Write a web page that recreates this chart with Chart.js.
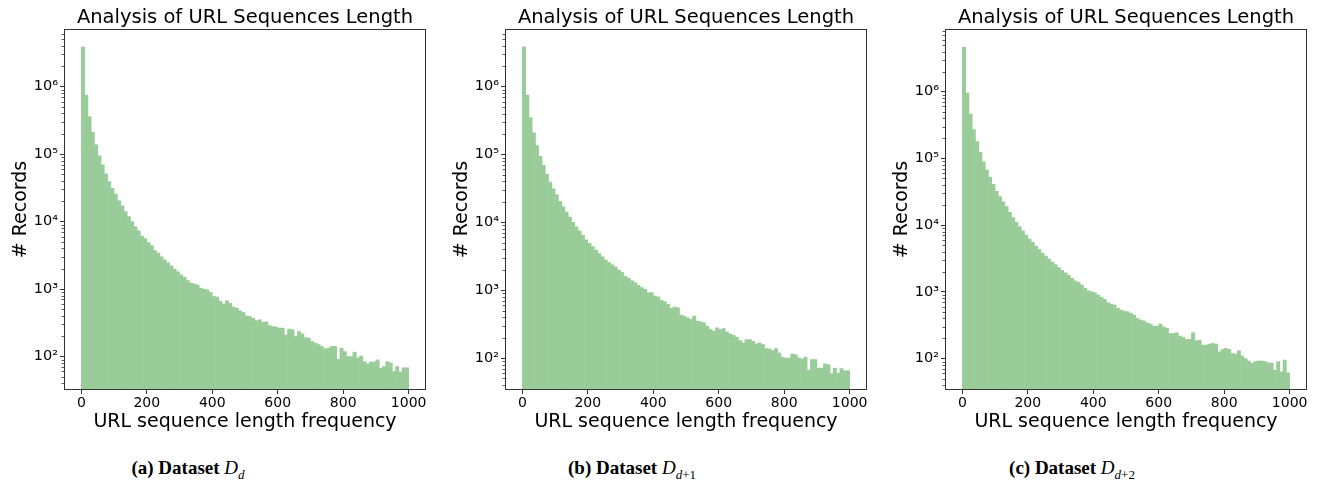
<!DOCTYPE html>
<html>
<head>
<meta charset="utf-8">
<script src="https://cdn.jsdelivr.net/npm/chart.js@4.4.0/dist/chart.umd.min.js"></script>
<style>
  body { margin: 0; background: #fff; width: 1320px; height: 483px; position: relative; overflow: hidden; }
  .panel { position: absolute; top: 0; width: 440px; height: 440px; }
  .cap { position: absolute; top: 457px; font-family: 'Liberation Serif', serif; font-weight: bold; font-size: 19px;
         transform: translateX(-50%); white-space: nowrap; color: #000; }
  .cap i { font-weight: normal; }
  .cap sub { font-size: 13px; font-weight: normal; }
</style>
</head>
<body>
<canvas id="c1" class="panel" width="440" height="440" style="left:0px"></canvas>
<canvas id="c2" class="panel" width="440" height="440" style="left:441px"></canvas>
<canvas id="c3" class="panel" width="440" height="440" style="left:881px"></canvas>
<div class="cap" style="left:188px">(a) Dataset <i>D</i><sub><i>d</i></sub></div>
<div class="cap" style="left:632px">(b) Dataset <i>D</i><sub><i>d</i>+1</sub></div>
<div class="cap" style="left:1072px">(c) Dataset <i>D</i><sub><i>d</i>+2</sub></div>
<script>
// histogram counts, 100 bins over 0..1000
var binCount = 100;
var binStart = 0;
var binWidth = 10;

var countsD = [3840000, 750000, 360000, 210000, 137000, 94000, 69000, 51000, 39000, 31000,
  25500, 20300, 17100, 14100, 11900, 10000, 8400, 7300, 6100, 5600,
  4900, 4400, 3700, 3400, 3000, 2700, 2460, 2200, 1970, 1800,
  1620, 1500, 1340, 1220, 1190, 1150, 1030, 990, 970, 890,
  775, 760, 655, 600, 670, 615, 540, 520, 475, 450,
  400, 392, 370, 340, 350, 320, 327, 288, 278, 273,
  263, 263, 209, 255, 249, 198, 234, 217, 191, 187,
  167, 158, 150, 141, 130, 133, 141, 141, 91, 133,
  118, 100, 100, 116, 95, 102, 84, 78, 83, 83,
  89, 67, 71, 84, 80, 60, 71, 59, 68, 68];

var countsD1 = [3840000, 750000, 350000, 208000, 135000, 94000, 69000, 51000, 39000, 31000,
  25500, 20300, 17100, 14100, 11900, 10000, 8600, 7400, 6400, 5500,
  4900, 4400, 3900, 3470, 3100, 2770, 2550, 2360, 2200, 1970,
  1820, 1600, 1500, 1370, 1290, 1180, 1090, 1030, 920, 920,
  820, 795, 710, 677, 618, 540, 564, 551, 430, 415,
  392, 371, 415, 350, 342, 330, 295, 263, 249, 279,
  263, 272, 243, 227, 217, 203, 181, 167, 187, 187,
  177, 162, 167, 158, 138, 136, 129, 138, 119, 103,
  100, 100, 115, 112, 100, 97, 103, 66, 95, 95,
  71, 71, 82, 80, 59, 71, 60, 70, 65, 65];

var countsD2 = [4630000, 950000, 460000, 270000, 178000, 123000, 89000, 67000, 52000, 41000,
  32000, 26700, 22400, 18900, 15500, 13000, 11000, 9500, 8200, 7100,
  6200, 5500, 4850, 4300, 3770, 3440, 3100, 2800, 2550, 2300,
  2100, 1930, 1780, 1590, 1460, 1390, 1265, 1130, 1040, 1005,
  970, 895, 826, 771, 687, 656, 634, 565, 533, 515,
  504, 475, 449, 400, 378, 365, 344, 329, 307, 307,
  329, 300, 283, 238, 238, 244, 217, 207, 194, 194,
  244, 185, 189, 159, 159, 165, 169, 165, 126, 137,
  142, 137, 119, 117, 131, 109, 100, 92, 85, 90,
  92, 92, 90, 86, 86, 67, 90, 63, 95, 61];

var xTicks = [0, 200, 400, 600, 800, 1000];
var yLimits = [[33, 6.9e6], [35, 6.8e6], [35, 8.4e6]];

var chartTitle = 'Analysis of URL Sequences Length';
var xTitle = 'URL sequence length frequency';
var yTitle = '# Records';

var sup = ['⁰', '¹', '²', '³', '⁴', '⁵', '⁶', '⁷', '⁸', '⁹'];

function isPow10(v) {
  var e = Math.log10(v);
  return Math.abs(e - Math.round(e)) < 1e-9;
}

function isWholeMantissa(v) {
  var m = v / Math.pow(10, Math.floor(Math.log10(v) + 1e-9));
  return Math.abs(m - Math.round(m)) < 1e-6;
}

var framePlugin = {
  id: 'frame',
  afterDraw: function(chart) {
    var ctx = chart.ctx, a = chart.chartArea;
    var ys = chart.scales.y;
    ctx.save();
    ctx.strokeStyle = '#333';
    ctx.lineWidth = 1;
    ctx.strokeRect(Math.round(a.left) - 0.5, Math.round(a.top) - 0.5,
      Math.round(a.right - a.left) + 1, Math.round(a.bottom - a.top) + 1);
    // minor log ticks, shorter than the major ones
    ctx.lineWidth = 0.8;
    ys.ticks.forEach(function(t) {
      if (isPow10(t.value)) return;
      var py = Math.round(ys.getPixelForValue(t.value)) + 0.5;
      ctx.beginPath();
      ctx.moveTo(a.left - 3.5, py);
      ctx.lineTo(a.left, py);
      ctx.stroke();
    });
    ctx.restore();
  }
};

function makeChart(id, counts, lim) {
  var pts = [];
  for (var i = 0; i < binCount; i++) {
    pts.push({ x: binStart + binWidth * (i + 0.5), y: counts[i] });
  }
  var ctx = document.getElementById(id).getContext('2d');
  return new Chart(ctx, {
    type: 'bar',
    data: {
      datasets: [{
        data: pts,
        backgroundColor: '#99cc99',
        borderWidth: 0,
        barPercentage: 1,
        categoryPercentage: 1
      }]
    },
    options: {
      responsive: false,
      animation: false,
      layout: { padding: { left: 0, right: 15, top: 0, bottom: 0 } },
      plugins: {
        legend: { display: false },
        tooltip: { enabled: false },
        title: {
          display: true,
          fullSize: false,
          text: chartTitle,
          color: '#000',
          font: { family: 'DejaVu Sans', size: 19.5, weight: 'normal', lineHeight: 1.2 },
          padding: { top: 6, bottom: 0.6 }
        }
      },
      scales: {
        x: {
          type: 'linear',
          min: -50,
          max: 1050,
          offset: false,
          afterFit: function(s) { s.height = 51; },
          afterBuildTicks: function(s) { s.ticks = xTicks.map(function(v) { return { value: v }; }); },
          border: { display: false },
          grid: { offset: false, drawOnChartArea: false, drawTicks: true, tickLength: 5, tickColor: '#333' },
          ticks: { color: '#000', padding: 1, maxRotation: 0, autoSkip: false,
                   font: { family: 'DejaVu Sans', size: 14 },
                   callback: function(v) { return String(v); } },
          title: { display: true, text: xTitle, color: '#000',
                   font: { family: 'DejaVu Sans', size: 19, lineHeight: 1.2 },
                   padding: { top: 0, bottom: 7 } }
        },
        y: {
          type: 'logarithmic',
          min: lim[0],
          max: lim[1],
          afterFit: function(s) { s.width = 65; },
          afterBuildTicks: function(s) {
            s.ticks = s.ticks.filter(function(t) { return isWholeMantissa(t.value); });
          },
          border: { display: false },
          grid: {
            drawOnChartArea: false, drawTicks: true, tickLength: 5,
            tickColor: function(c) { return c.tick && isPow10(c.tick.value) ? '#333' : 'rgba(0,0,0,0)'; }
          },
          ticks: {
            color: '#000', padding: 2, autoSkip: false,
            font: { family: 'DejaVu Sans', size: 14.5 },
            callback: function(v) {
              if (!isPow10(v)) return '';
              return '10' + sup[Math.round(Math.log10(v))];
            }
          },
          title: { display: true, text: yTitle, color: '#000',
                   font: { family: 'DejaVu Sans', size: 19, lineHeight: 1.2 },
                   padding: { top: 10, bottom: 0 } }
        }
      }
    },
    plugins: [framePlugin]
  });
}

var chart1 = makeChart('c1', countsD, yLimits[0]);
var chart2 = makeChart('c2', countsD1, yLimits[1]);
var chart3 = makeChart('c3', countsD2, yLimits[2]);
</script>
</body>
</html>
